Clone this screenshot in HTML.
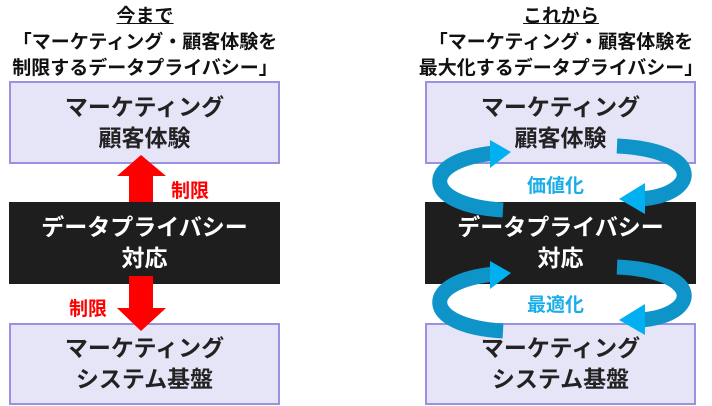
<!DOCTYPE html>
<html><head><meta charset="utf-8"><style>
body{margin:0;width:712px;height:406px;background:#fff;position:relative;overflow:hidden;font-family:"Liberation Sans","Noto Sans CJK JP",sans-serif;}
.t{position:absolute;text-align:center;font-weight:bold;color:#111;font-size:19px;line-height:26px;}
.box{position:absolute;box-sizing:border-box;background:#e6e4f7;border:2px solid #9a92e0;display:flex;align-items:center;justify-content:center;text-align:center;font-size:23px;line-height:31px;color:#222;font-weight:bold;}
.blk{position:absolute;background:#1e1e1e;color:#fff;display:flex;align-items:center;justify-content:center;text-align:center;font-size:23px;line-height:31px;font-weight:bold;}
.lbl{position:absolute;font-weight:bold;font-size:19px;}
svg{position:absolute;left:0;top:0}
</style></head><body>
<div class="t" style="left:0;width:290px;top:4px"><u>今まで</u><br>「マーケティング・顧客体験を<br>制限するデータプライバシー」</div>
<div class="t" style="left:416px;width:290px;top:4px"><u>これから</u><br>「マーケティング・顧客体験を<br>最大化するデータプライバシー」</div>

<div class="box" style="left:9px;top:81px;width:271px;height:83px">マーケティング<br>顧客体験</div>
<div class="blk" style="left:9px;top:202px;width:271px;height:82px">データプライバシー<br>対応</div>
<div class="box" style="left:9px;top:323px;width:271px;height:82px">マーケティング<br>システム基盤</div>

<div class="box" style="left:425px;top:81px;width:271px;height:83px">マーケティング<br>顧客体験</div>
<div class="blk" style="left:425px;top:202px;width:271px;height:82px">データプライバシー<br>対応</div>
<div class="box" style="left:425px;top:323px;width:271px;height:82px">マーケティング<br>システム基盤</div>

<svg width="712" height="406">
<polygon points="141,155 166,176 153,176 153,202 129,202 129,176 117,176" fill="#f00"/>
<polygon points="129,276 153,276 153,308 166,308 141,331 117,308 129,308" fill="#f00"/>
<g id="loop">
<path d="M503,210 C420,205 420,160 495,153" fill="none" stroke="#0e94c8" stroke-width="15"/>
<polygon points="490,140 511,152 490,168" fill="#00b0f0"/>
<path d="M617,146 C705,150 700,195 640,199" fill="none" stroke="#0e94c8" stroke-width="15"/>
<polygon points="645,183 619,199 645,214" fill="#00b0f0"/>
</g>
<use href="#loop" transform="translate(0,121)"/>
</svg>
<div class="lbl" style="left:527px;top:171px;color:#1aaee8">価値化</div>
<div class="lbl" style="left:527px;top:290px;color:#1aaee8">最適化</div>
<div class="lbl" style="left:171px;top:176px;color:#f00">制限</div>
<div class="lbl" style="left:69px;top:294px;color:#f00">制限</div>
</body></html>
